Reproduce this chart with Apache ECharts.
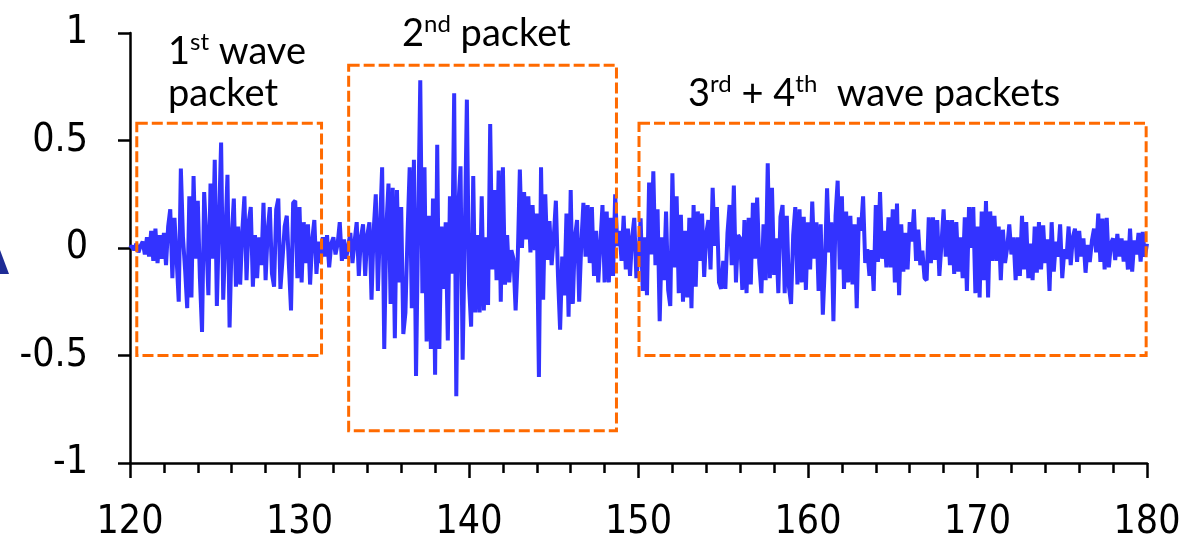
<!DOCTYPE html>
<html>
<head>
<meta charset="utf-8">
<script src="https://cdn.jsdelivr.net/npm/echarts@6/dist/echarts.min.js"></script>
<style>
  html, body { margin: 0; padding: 0; background: #ffffff; }
  #chart { width: 1187px; height: 546px; }
</style>
</head>
<body>
<div id="chart"></div>
<script>
// Sampled amplitude, 8 samples per time unit starting at t = 120
const T_START = 120;
const T_STEP = 0.125;

const amp120 = [
  0, 0.01, -0.01, 0.02, -0.02, 0.01, 0.03, -0.03,
  0.05, -0.04, 0.08, -0.06, 0.09, -0.07, 0.06, -0.05,
  0.07, -0.08, 0.10, 0.18, -0.14, 0.14, -0.05, -0.25,
  0.37, 0.05, -0.10, -0.28, 0.24, -0.23, 0.335, -0.05,
  0.22, -0.14, -0.39, 0.26, 0.05, -0.22, 0.30, -0.05,
  0.41, -0.27, 0.12, 0.49, -0.24, 0.05, 0.34, -0.37,
  0.05, 0.23, -0.18, 0.10, -0.17, 0.08, 0.24, -0.15,
  0.12, 0.19, -0.18, 0.06, -0.14, 0.05, -0.08, 0.21,
  -0.15, 0.08, 0.19, -0.12, -0.18, 0.18, 0.23, -0.19,
  -0.05, 0.10, 0.15, -0.08, -0.29, 0.21, 0.22, -0.14
];
const amp130 = [
  0.19, -0.16, 0.12, -0.07, 0.11, -0.17, 0.04, 0.13,
  -0.12, 0.03, -0.07, 0.05, -0.04, 0.06, -0.09, 0.02,
  0.05, -0.03, 0.02, 0.12, -0.06, 0.04, -0.05, 0.01,
  0.07, -0.07, 0.03, 0.12, -0.13, 0.05, 0.11, -0.13,
  0.06, 0.12, -0.24, 0.08, 0.25, -0.20, 0.10, 0.375,
  -0.47, 0.10, 0.30, -0.26, 0.28, -0.42, 0.27, -0.16,
  0.19, -0.40, -0.30, 0.07, 0.375, -0.28, 0.41, -0.595,
  0.10, 0.78, -0.21, 0.375, -0.435, 0.15, -0.47, 0.23,
  -0.59, 0.48, -0.47, 0.10, -0.19, 0.12, -0.43, 0.24,
  -0.12, 0.72, -0.69, 0.20, 0.38, -0.52, 0.05, 0.69
];
const amp140 = [
  -0.17, -0.366, 0.335, -0.30, 0.06, -0.30, 0.24, -0.29,
  0.05, -0.265, 0.577, -0.10, 0.27, -0.15, 0.36, -0.25,
  0.375, -0.17, 0.06, -0.16, -0.01, -0.05, -0.29, -0.05,
  0.365, 0.0, 0.26, 0.04, 0.24, -0.02, 0.20, -0.01,
  0.16, -0.60, 0.375, -0.24, 0.25, -0.055, 0.125, -0.08,
  0.05, 0.22, -0.13, -0.38, -0.04, -0.22, 0.16, -0.32,
  0.27, -0.26, 0.05, 0.13, -0.25, 0.02, 0.21, -0.04,
  0.20, -0.07, 0.19, -0.13, 0.08, -0.16, 0.02, 0.20,
  -0.16, 0.17, -0.16, 0.14, -0.13, 0.25, 0.01, 0.08,
  -0.06, 0.15, -0.10, 0.09, -0.13, 0.05, 0.14, -0.14
];
const amp150 = [
  -0.04, 0.138, -0.20, 0.05, -0.22, 0.305, -0.03, 0.357,
  -0.08, 0.18, -0.34, 0.05, -0.15, 0.17, -0.195, -0.27,
  0.347, -0.09, 0.24, -0.21, 0.154, -0.25, 0.08, -0.23,
  0.14, -0.28, 0.20, -0.18, 0.17, -0.06, 0.16, -0.135,
  0.07, 0.13, -0.10, 0.28, 0.01, 0.19, -0.16, -0.19,
  -0.06, -0.19, 0.07, 0.20, -0.08, 0.29, -0.16, 0.06,
  0.045, -0.195, 0.13, -0.21, 0.14, -0.17, 0.21, -0.05,
  0.235, -0.07, -0.21, 0.11, -0.15, 0.394, -0.14, 0.28,
  -0.125, 0.045, -0.21, 0.145, 0.20, -0.21, 0.15, -0.18,
  -0.26, 0.06, 0.19, -0.17, 0.18, -0.16, 0.145, -0.195
];
const amp160 = [
  0.12, -0.10, 0.216, -0.05, 0.12, -0.20, 0.11, -0.31,
  -0.07, 0.278, -0.02, 0.12, -0.34, 0.15, 0.313, -0.10,
  0.24, -0.19, 0.17, -0.16, 0.15, -0.17, 0.11, -0.28,
  0.143, 0.08, 0.24, -0.07, -0.005, -0.13, -0.01, -0.20,
  0.20, -0.065, 0.26, -0.05, 0.08, -0.09, 0.143, -0.09,
  0.18, -0.16, 0.207, -0.22, 0.11, -0.11, 0.07, -0.10,
  0.12, 0.03, 0.18, -0.06, 0.085, -0.08, -0.012, -0.14,
  -0.15, 0.143, -0.07, 0.143, -0.055, 0.13, -0.13, 0.02,
  0.18, -0.04, 0.13, -0.08, 0.13, -0.12, 0.12, -0.11,
  0.05, -0.14, 0.143, -0.20, 0.19, 0.0, 0.19, -0.21
];
const amp170 = [
  0.10, -0.23, 0.17, -0.15, 0.218, -0.23, 0.17, -0.06,
  0.15, -0.06, 0.10, -0.15, 0.085, -0.07, 0.0, 0.11,
  -0.03, 0.05, -0.15, 0.05, -0.13, 0.15, -0.10, 0.12,
  -0.14, 0.02, -0.15, 0.10, -0.115, 0.12, -0.10, 0.105,
  -0.07, 0.04, -0.20, 0.12, -0.11, 0.03, -0.04, 0.11,
  -0.14, -0.006, -0.05, 0.10, -0.08, 0.05, 0.09, -0.065,
  0.08, -0.04, 0.045, -0.115, 0.014, -0.065, 0.034, 0.09,
  -0.02, 0.16, -0.065, 0.137, -0.10, 0.14, -0.09, 0.022,
  0.045, -0.056, 0.065, -0.04, 0.045, -0.063, 0.034, -0.10,
  0.09, -0.11, 0.036, -0.03, 0.07, -0.063, 0.075, -0.04
];
const amp180 = [0.02];

// Wave packet windows: [t start, t end, amplitude low, amplitude high]
const packetBox1 = [120.4, 131.3, -0.5, 0.58];
const packetBox2 = [132.9, 148.7, -0.85, 0.85];
const packetBox3 = [150.03, 179.95, -0.5, 0.58];

const xTicks = { min: 120, max: 180, step: 10 };
const yTicks = { min: -1, max: 1, step: 0.5 };

const samples = [].concat(amp120, amp130, amp140, amp150, amp160, amp170, amp180);
const signal = samples.map((v, i) => [T_START + i * T_STEP, v]);

const AXIS_FONT = "'DejaVu Sans Condensed', 'DejaVu Sans', sans-serif";
const NOTE_FONT = "Lato, 'Noto Sans', sans-serif";

const noteRich = {
  m: { fontSize: 38, fontFamily: NOTE_FONT, color: '#000', lineHeight: 44 },
  s: { fontSize: 24, fontFamily: NOTE_FONT, color: '#000', lineHeight: 24, verticalAlign: 'top' }
};

const chart = echarts.init(document.getElementById('chart'), null, { renderer: 'canvas' });

chart.setOption({
  animation: false,
  backgroundColor: '#ffffff',
  grid: { left: 130, right: 40, top: 33, bottom: 83, containLabel: false },
  xAxis: {
    type: 'value',
    min: xTicks.min,
    max: xTicks.max,
    interval: xTicks.step,
    axisLine: { show: true, onZero: false, lineStyle: { color: '#000', width: 2.5 } },
    axisTick: { show: true, inside: false, length: 15, lineStyle: { color: '#000', width: 2.5 } },
    minorTick: { show: true, splitNumber: 5, length: 10, lineStyle: { color: '#000', width: 2.5 } },
    axisLabel: { margin: 40, fontSize: 39, fontFamily: AXIS_FONT, color: '#000' },
    splitLine: { show: false }
  },
  yAxis: {
    type: 'value',
    min: yTicks.min,
    max: yTicks.max,
    interval: yTicks.step,
    axisLine: { show: true, onZero: false, lineStyle: { color: '#000', width: 2.5 } },
    axisTick: { show: true, inside: false, length: 12, lineStyle: { color: '#000', width: 2.5 } },
    axisLabel: { margin: 42, fontSize: 39, fontFamily: AXIS_FONT, color: '#000' },
    splitLine: { show: false }
  },
  series: [
    {
      type: 'line',
      data: signal,
      showSymbol: false,
      symbol: 'none',
      lineStyle: { color: '#3333ff', width: 4, join: 'bevel' },
      z: 2
    },
    {
      type: 'custom',
      z: 5,
      silent: true,
      clip: false,
      data: [packetBox1, packetBox2, packetBox3],
      encode: { x: [0, 1], y: [2, 3] },
      renderItem: function (params, api) {
        const topLeft = api.coord([api.value(0), api.value(3)]);
        const bottomRight = api.coord([api.value(1), api.value(2)]);
        return {
          type: 'rect',
          shape: {
            x: topLeft[0],
            y: topLeft[1],
            width: bottomRight[0] - topLeft[0],
            height: bottomRight[1] - topLeft[1]
          },
          style: { fill: 'none', stroke: '#ff6a00', lineWidth: 3, lineDash: [11, 4] }
        };
      }
    }
  ],
  graphic: [
    {
      type: 'text', left: 168, top: 30, z: 10,
      style: { text: '{m|1}{s|st}{m| wave}', rich: noteRich }
    },
    {
      type: 'text', left: 168, top: 75, z: 10,
      style: { text: '{m|packet}', rich: noteRich }
    },
    {
      type: 'text', left: 402, top: 12, z: 10,
      style: { text: '{m|2}{s|nd}{m| packet}', rich: noteRich }
    },
    {
      type: 'text', left: 688, top: 72, z: 10,
      style: { text: '{m|3}{s|rd}{m| + 4}{s|th}{m|  wave packets}', rich: noteRich }
    },
    {
      type: 'polygon', z: 10,
      shape: { points: [[-9, 274], [0, 250], [9, 274]] },
      style: { fill: '#1e2c96' }
    }
  ]
});
</script>
</body>
</html>
